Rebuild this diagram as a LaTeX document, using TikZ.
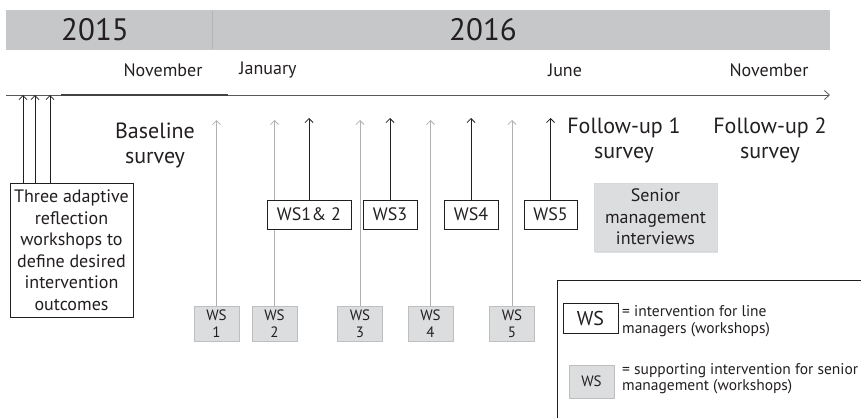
\documentclass[tikz,border=0pt]{standalone}
\usepackage{fontspec}
\setmainfont{PT Sans}
\usetikzlibrary{arrows.meta,shadows}

\definecolor{ink}{HTML}{231F20}
\definecolor{band}{HTML}{C6C7C9}
\definecolor{bandline}{HTML}{B3B4B6}
\definecolor{boxgray}{HTML}{DCDDDE}
\definecolor{edgegray}{HTML}{BDBEC0}
\definecolor{arrowgray}{HTML}{B0B1B3}

\newcommand{\fs}[2]{\fontsize{#1}{#2}\selectfont}

\tikzset{
  tip/.style={-{Straight Barb[length=4pt,width=8pt]}},
  blackarrow/.style={tip, draw=ink, line width=0.8pt},
  grayarrow/.style={tip, draw=arrowgray, line width=0.8pt},
  wsbox/.style={draw=ink, fill=white, line width=0.7pt, text=ink,
    font=\fs{18}{21}, inner sep=0pt, minimum height=29pt},
  graybox/.style={draw=edgegray, fill=boxgray, line width=0.7pt, text=ink,
    font=\fs{15}{16.5}, align=center, inner sep=0pt,
    minimum width=45pt, minimum height=35pt},
  survey/.style={text=ink, font=\fs{22}{25}, align=center},
  month/.style={text=ink, font=\fs{18}{20}},
  legendtext/.style={text=ink, font=\fs{15.5}{16.5}, align=left, anchor=west, inner sep=0pt},
}

\begin{document}
\begin{tikzpicture}[x=1pt, y=-1pt]
  \useasboundingbox (0,0) rectangle (861,418);

  % year band
  \fill[band] (6,10) rectangle (830,50);
  \draw[bandline, line width=0.6pt] (212,11) -- (212,49);
  \node[text=ink, font=\fs{31}{33}] (y2015) at (95,30) {2015};
  \node[text=ink, font=\fs{31}{33}] (y2016) at (483,30) {2016};

  % months
  \node[month] (nov15) at (163,70) {November};
  \node[month] (jan16) at (268,70) {January};
  \node[month] (jun16) at (565,70) {June};
  \node[month] (nov16) at (769,70) {November};

  % time axis
  \coordinate (axisstart) at (6,95);
  \coordinate (axisend) at (830,95);
  \coordinate (darkA) at (61,95);
  \coordinate (darkB) at (228,95);
  \draw[draw=ink!75, line width=0.8pt, -{Straight Barb[length=5pt,width=9pt]}] (axisstart) -- (axisend);
  \draw[draw=ink!85, line width=1.3pt] (darkA) -- (darkB);

  % reflection workshops
  \node[draw=ink, fill=white, line width=0.7pt, text=ink, font=\fs{18}{21.5},
        align=center, minimum width=123pt, minimum height=134pt, inner sep=0pt]
        (three) at (71.5,250) {Three adaptive\\reflection\\workshops to\\define desired\\intervention\\outcomes};
  \coordinate (t1) at (23,95);
  \coordinate (t2) at (35,95);
  \coordinate (t3) at (50,95);
  \draw[blackarrow] (three.north -| t1) -- (t1);
  \draw[blackarrow] (three.north -| t2) -- (t2);
  \draw[blackarrow] (three.north -| t3) -- (t3);

  % surveys
  \node[survey] (base) at (155,145) {Baseline\\survey};
  \node[survey] (fu1) at (624,140) {Follow-up 1\\survey};
  \node[survey] (fu2) at (770,140) {Follow-up 2\\survey};

  % senior management workshops
  \node[graybox] (g1) at (216.5,323.5) {WS\\1};
  \node[graybox] (g2) at (274.5,323.5) {WS\\2};
  \node[graybox] (g3) at (360,323.5) {WS\\3};
  \node[graybox] (g4) at (430.5,323.5) {WS\\4};
  \node[graybox] (g5) at (512,323.5) {WS\\5};
  \coordinate (g1top) at (216.5,120);
  \coordinate (g2top) at (274.5,120);
  \coordinate (g3top) at (360,120);
  \coordinate (g4top) at (430.5,120);
  \coordinate (g5top) at (512,120);
  \foreach \g in {g1,g2,g3,g4,g5} \draw[grayarrow] (\g) -- (\g top);

  % line manager workshops
  \node[wsbox, minimum width=84pt] (w12) at (309,214.5) {WS1\kern0.5pt\& 2};
  \node[wsbox, minimum width=54pt] (w3) at (390,214.5) {WS3};
  \node[wsbox, minimum width=54pt] (w4) at (471,214.5) {WS4};
  \node[wsbox, minimum width=53pt] (w5) at (550.5,214.5) {WS5};
  \coordinate (w12top) at (309,118);
  \coordinate (w3top) at (390,118);
  \coordinate (w4top) at (471,118);
  \coordinate (w5top) at (550.5,118);
  \foreach \w in {w12,w3,w4,w5} \draw[blackarrow] (\w) -- (\w top);

  % senior management interviews
  \node[draw=edgegray!60, fill=boxgray, text=ink, font=\fs{18}{21.5}, align=center,
        minimum width=123pt, minimum height=68pt, inner sep=0pt,
        drop shadow={opacity=0.25, shadow xshift=1pt, shadow yshift=-1.5pt}]
        (smi) at (655.5,217) {Senior\\management\\interviews};

  % legend
  \coordinate (legbl) at (557,418);
  \coordinate (legtl) at (557,280);
  \coordinate (legtr) at (861,280);
  \draw[ink, line width=0.7pt] (legbl) -- (legtl) -- (legtr);
  \node[wsbox, font=\fs{20}{22}, minimum width=55pt, minimum height=30pt] (legws) at (590.5,318) {WS};
  \node[legendtext] (legwstext) at (622,321) {= intervention for line\\managers (workshops)};
  \node[graybox, minimum height=33pt] (leggray) at (591.5,381.5) {WS};
  \node[legendtext] (leggraytext) at (622,378.5) {= supporting intervention for senior\\management (workshops)};
\end{tikzpicture}
\end{document}
